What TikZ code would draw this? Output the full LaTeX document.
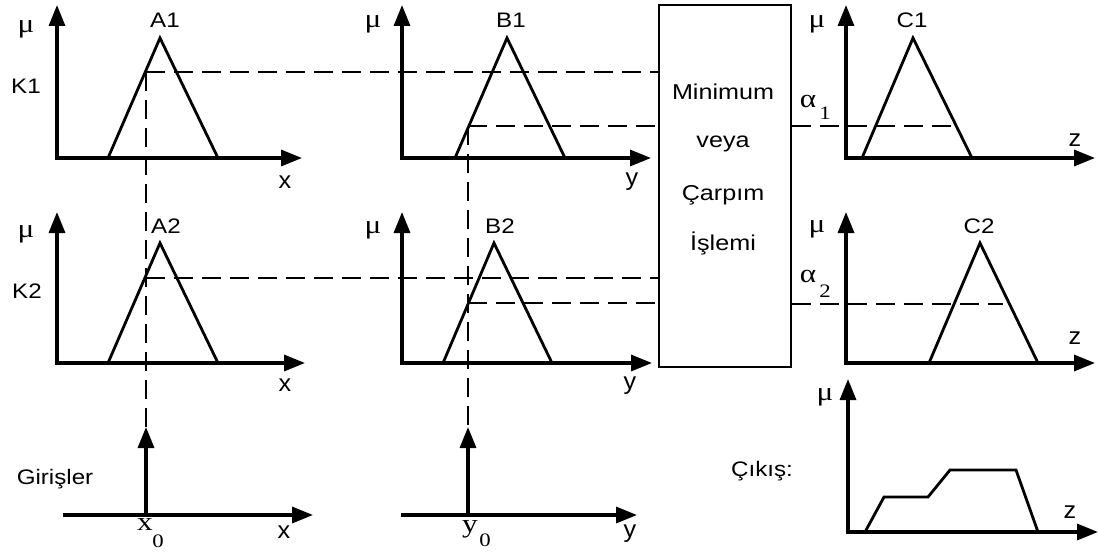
\documentclass[tikz,border=0pt]{standalone}
\usepackage{fontspec}
\setmainfont{Liberation Sans}[FakeStretch=1.15]
\newfontfamily\boxfont{Liberation Sans}[FakeStretch=1.17]
\newfontfamily\axfont{Liberation Sans}[FakeStretch=1.05]
\newfontfamily\gr{Liberation Serif}[FakeStretch=1.2]
\usetikzlibrary{arrows.meta}
\begin{document}
\begin{tikzpicture}[x=1pt,y=-1pt,
  axes/.style={line width=3.3pt,line join=miter,{Triangle[length=21pt,width=16pt]}-{Triangle[length=21pt,width=16pt]}},
  axis/.style={line width=3.3pt,-{Triangle[length=21pt,width=16pt]}},
  mf/.style={line width=2.8pt,line join=miter},
  guide/.style={line width=2.2pt,dash pattern=on 19pt off 9pt},
  lbl/.style={font=\fontsize{21}{22}\selectfont,inner sep=0pt},
  axl/.style={font=\axfont\fontsize{24}{24}\selectfont,inner sep=0pt},
  mu/.style={font=\gr\fontsize{26}{26}\selectfont,inner sep=0pt},
  sub/.style={font=\gr\fontsize{19}{19}\selectfont,inner sep=0pt},
  boxtxt/.style={font=\boxfont\fontsize{21.5}{22}\selectfont,inner sep=0pt}]
\useasboundingbox (0,0) rectangle (1099,551);

% ---------- box ----------
\node[draw,line width=2.5pt,minimum width=132pt,minimum height=362pt,inner sep=0pt] (box) at (725,186) {};
\node[boxtxt] (t1) at (723,92) {Minimum};
\node[boxtxt] (t2) at (723,144) {veya};
\node[boxtxt] (t3) at (723,195) {Çarpım};
\node[boxtxt] (t4) at (723,243) {İşlemi};

% ---------- A1 ----------
\coordinate (A1o) at (57,158); \coordinate (A1y) at (57,5); \coordinate (A1x) at (302,158);
\draw[axes] (A1y) -- (A1o) -- (A1x);
\coordinate (A1l) at (108,158); \coordinate (A1p) at (160,38); \coordinate (A1r) at (218,158);
\draw[mf] (A1l) -- (A1p) -- (A1r);
\node[mu] (muA1) at (26,29) {μ};
\node[lbl] (nA1) at (165,20) {A1};
\node[lbl] (K1) at (26,86) {K1};
\node[axl] (xA1) at (285,182) {x};

% ---------- B1 ----------
\coordinate (B1o) at (402,158); \coordinate (B1y) at (402,5); \coordinate (B1x) at (651,158);
\draw[axes] (B1y) -- (B1o) -- (B1x);
\coordinate (B1l) at (455,158); \coordinate (B1p) at (507,38); \coordinate (B1r) at (565,158);
\draw[mf] (B1l) -- (B1p) -- (B1r);
\node[mu] (muB1) at (373,24) {μ};
\node[lbl] (nB1) at (511,20) {B1};
\node[axl] (yB1) at (632,182) {y};

% ---------- C1 ----------
\coordinate (C1o) at (846,158); \coordinate (C1y) at (846,5); \coordinate (C1x) at (1095,158);
\draw[axes] (C1y) -- (C1o) -- (C1x);
\coordinate (C1l) at (862,158); \coordinate (C1p) at (913,38); \coordinate (C1r) at (972,158);
\draw[mf] (C1l) -- (C1p) -- (C1r);
\node[mu] (muC1) at (817,24) {μ};
\node[lbl] (nC1) at (912,20) {C1};
\node[axl] (zC1) at (1075,140) {z};

% ---------- A2 ----------
\coordinate (A2o) at (57,363); \coordinate (A2y) at (57,212); \coordinate (A2x) at (305,363);
\draw[axes] (A2y) -- (A2o) -- (A2x);
\coordinate (A2l) at (108,363); \coordinate (A2p) at (160,243); \coordinate (A2r) at (218,363);
\draw[mf] (A2l) -- (A2p) -- (A2r);
\node[mu] (muA2) at (26,234) {μ};
\node[lbl] (nA2) at (166,226) {A2};
\node[lbl] (K2) at (27,291) {K2};
\node[axl] (xA2) at (285,385) {x};

% ---------- B2 ----------
\coordinate (B2o) at (402,363); \coordinate (B2y) at (402,212); \coordinate (B2x) at (652,363);
\draw[axes] (B2y) -- (B2o) -- (B2x);
\coordinate (B2l) at (443,363); \coordinate (B2p) at (494,243); \coordinate (B2r) at (552,363);
\draw[mf] (B2l) -- (B2p) -- (B2r);
\node[mu] (muB2) at (373,230) {μ};
\node[lbl] (nB2) at (500,226) {B2};
\node[axl] (yB2) at (630,386) {y};

% ---------- C2 ----------
\coordinate (C2o) at (846,363); \coordinate (C2y) at (846,212); \coordinate (C2x) at (1095,363);
\draw[axes] (C2y) -- (C2o) -- (C2x);
\coordinate (C2l) at (929,363); \coordinate (C2p) at (980,243); \coordinate (C2r) at (1038,363);
\draw[mf] (C2l) -- (C2p) -- (C2r);
\node[mu] (muC2) at (817,229) {μ};
\node[lbl] (nC2) at (979,226) {C2};
\node[axl] (zC2) at (1075,338) {z};

% ---------- inputs ----------
\coordinate (Xl) at (63,515); \coordinate (Xr) at (313,515);
\draw[axis] (Xl) -- (Xr);
\coordinate (x0b) at (146,515); \coordinate (x0t) at (146,427);
\draw[axis] (x0b) -- (x0t);
\coordinate (Yl) at (401,515); \coordinate (Yr) at (637,515);
\draw[axis] (Yl) -- (Yr);
\coordinate (y0b) at (468,515); \coordinate (y0t) at (468,427);
\draw[axis] (y0b) -- (y0t);
\node[lbl] (gir) at (55,479) {Girişler};
\node[font=\gr\fontsize{26}{26}\selectfont,inner sep=0pt] (x0) at (145,525) {x};
\node[sub] (x0s) at (158,541) {0};
\node[axl] (xIn) at (284,532) {x};
\node[font=\gr\fontsize{26}{26}\selectfont,inner sep=0pt] (y0) at (470,529) {y};
\node[sub] (y0s) at (485,540) {0};
\node[axl] (yIn) at (630,534) {y};

% ---------- output ----------
\coordinate (Oo) at (848,532); \coordinate (Oy) at (848,379); \coordinate (Ox) at (1098,532);
\draw[axes] (Oy) -- (Oo) -- (Ox);
\coordinate (o1) at (865,532); \coordinate (o2) at (884,497); \coordinate (o3) at (928,497);
\coordinate (o4) at (950,470); \coordinate (o5) at (1016,470); \coordinate (o6) at (1038,532);
\draw[mf] (o1) -- (o2) -- (o3) -- (o4) -- (o5) -- (o6);
\node[mu] (muO) at (825,397) {μ};
\node[lbl] (cik) at (762,471) {Çıkış:};
\node[axl] (zO) at (1070,512) {z};

% ---------- guides ----------
\coordinate (k1) at (146,72);
\coordinate (k2) at (146,278);
\coordinate (b1c) at (468,126);
\coordinate (b2c) at (468,303);
\draw[guide] (k1) -- (k1 -| box.west);
\draw[guide] (k1) -- (x0t);
\draw[guide] (k2) -- (k2 -| box.west);
\draw[guide] (b1c) -- (b1c -| box.west);
\draw[guide] (b1c) -- (y0t);
\draw[guide] (b2c) -- (b2c -| box.west);
\coordinate (al1e) at (957,126);
\coordinate (al2e) at (1003,304);
\draw[guide] (al1e -| box.east) -- (al1e);
\draw[guide] (al2e -| box.east) -- (al2e);
\node[mu] (al1) at (808,101) {α};
\node[sub] (al1s) at (825,113) {1};
\node[mu] (al2) at (808,276) {α};
\node[sub] (al2s) at (825,291) {2};
\end{tikzpicture}
\end{document}
